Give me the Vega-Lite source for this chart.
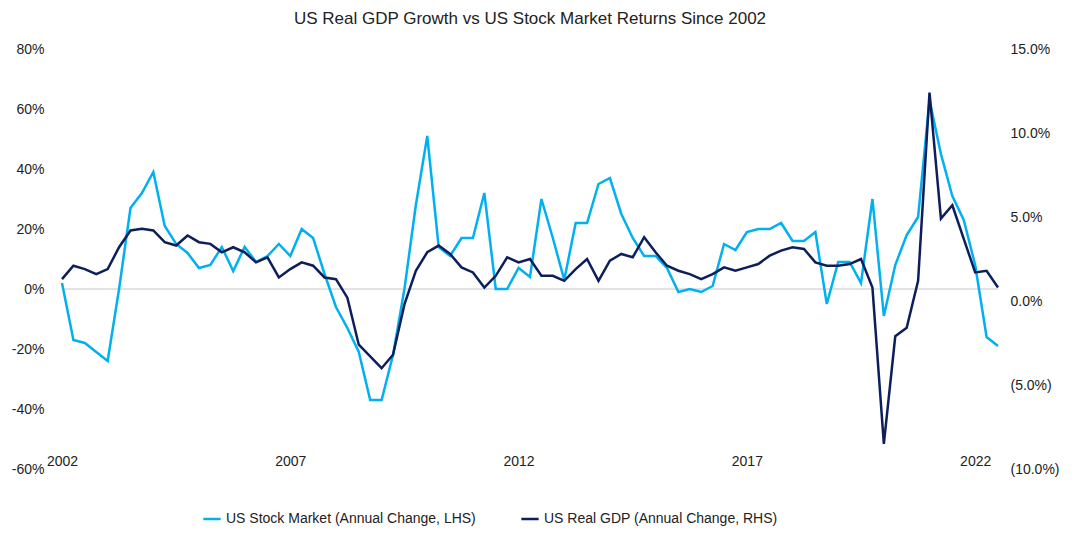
{
  "$schema": "https://vega.github.io/schema/vega-lite/v6.json",
  "autosize": "none",
  "width": 936,
  "height": 420,
  "padding": {"left": 62, "top": 49, "right": 82, "bottom": 70},
  "title": {"text": "US Real GDP Growth vs US Stock Market Returns Since 2002", "fontSize": 17, "fontWeight": "normal", "color": "#222", "offset": 14},
  "data": {"values": [
    {"q": 0, "stock": 2, "gdp": 1.3}, {"q": 1, "stock": -17, "gdp": 2.1}, {"q": 2, "stock": -18, "gdp": 1.9}, {"q": 3, "stock": -21, "gdp": 1.6},
    {"q": 4, "stock": -24, "gdp": 1.9}, {"q": 5, "stock": 0, "gdp": 3.2}, {"q": 6, "stock": 27, "gdp": 4.2}, {"q": 7, "stock": 32, "gdp": 4.3},
    {"q": 8, "stock": 39, "gdp": 4.2}, {"q": 9, "stock": 21, "gdp": 3.5}, {"q": 10, "stock": 15, "gdp": 3.3}, {"q": 11, "stock": 12, "gdp": 3.9},
    {"q": 12, "stock": 7, "gdp": 3.5}, {"q": 13, "stock": 8, "gdp": 3.4}, {"q": 14, "stock": 14, "gdp": 2.9}, {"q": 15, "stock": 6, "gdp": 3.2},
    {"q": 16, "stock": 14, "gdp": 2.9}, {"q": 17, "stock": 9, "gdp": 2.3}, {"q": 18, "stock": 11, "gdp": 2.6}, {"q": 19, "stock": 15, "gdp": 1.4},
    {"q": 20, "stock": 11, "gdp": 1.9}, {"q": 21, "stock": 20, "gdp": 2.3}, {"q": 22, "stock": 17, "gdp": 2.1}, {"q": 23, "stock": 5, "gdp": 1.4},
    {"q": 24, "stock": -6, "gdp": 1.3}, {"q": 25, "stock": -13, "gdp": 0.2}, {"q": 26, "stock": -21, "gdp": -2.6}, {"q": 27, "stock": -37, "gdp": -3.3},
    {"q": 28, "stock": -37, "gdp": -4.0}, {"q": 29, "stock": -22, "gdp": -3.2}, {"q": 30, "stock": 0, "gdp": -0.2}, {"q": 31, "stock": 28, "gdp": 1.8},
    {"q": 32, "stock": 51, "gdp": 2.9}, {"q": 33, "stock": 14, "gdp": 3.3}, {"q": 34, "stock": 11, "gdp": 2.8}, {"q": 35, "stock": 17, "gdp": 2.0},
    {"q": 36, "stock": 17, "gdp": 1.7}, {"q": 37, "stock": 32, "gdp": 0.8}, {"q": 38, "stock": 0, "gdp": 1.5}, {"q": 39, "stock": 0, "gdp": 2.6},
    {"q": 40, "stock": 7, "gdp": 2.3}, {"q": 41, "stock": 4, "gdp": 2.5}, {"q": 42, "stock": 30, "gdp": 1.5}, {"q": 43, "stock": 17, "gdp": 1.5},
    {"q": 44, "stock": 3, "gdp": 1.2}, {"q": 45, "stock": 22, "gdp": 1.9}, {"q": 46, "stock": 22, "gdp": 2.5}, {"q": 47, "stock": 35, "gdp": 1.2},
    {"q": 48, "stock": 37, "gdp": 2.4}, {"q": 49, "stock": 25, "gdp": 2.8}, {"q": 50, "stock": 17, "gdp": 2.6}, {"q": 51, "stock": 11, "gdp": 3.8},
    {"q": 52, "stock": 11, "gdp": 2.9}, {"q": 53, "stock": 7, "gdp": 2.1}, {"q": 54, "stock": -1, "gdp": 1.8}, {"q": 55, "stock": 0, "gdp": 1.6},
    {"q": 56, "stock": -1, "gdp": 1.3}, {"q": 57, "stock": 1, "gdp": 1.6}, {"q": 58, "stock": 15, "gdp": 2.0}, {"q": 59, "stock": 13, "gdp": 1.8},
    {"q": 60, "stock": 19, "gdp": 2.0}, {"q": 61, "stock": 20, "gdp": 2.2}, {"q": 62, "stock": 20, "gdp": 2.7}, {"q": 63, "stock": 22, "gdp": 3.0},
    {"q": 64, "stock": 16, "gdp": 3.2}, {"q": 65, "stock": 16, "gdp": 3.1}, {"q": 66, "stock": 19, "gdp": 2.3}, {"q": 67, "stock": -5, "gdp": 2.1},
    {"q": 68, "stock": 9, "gdp": 2.1}, {"q": 69, "stock": 9, "gdp": 2.2}, {"q": 70, "stock": 2, "gdp": 2.5}, {"q": 71, "stock": 30, "gdp": 0.8},
    {"q": 72, "stock": -9, "gdp": -8.5}, {"q": 73, "stock": 8, "gdp": -2.1}, {"q": 74, "stock": 18, "gdp": -1.6}, {"q": 75, "stock": 24, "gdp": 1.2},
    {"q": 76, "stock": 63, "gdp": 12.4}, {"q": 77, "stock": 45, "gdp": 4.9}, {"q": 78, "stock": 31, "gdp": 5.7}, {"q": 79, "stock": 23, "gdp": 3.7},
    {"q": 80, "stock": 8, "gdp": 1.7}, {"q": 81, "stock": -16, "gdp": 1.8}, {"q": 82, "stock": -19, "gdp": 0.8}
  ]},
  "transform": [{"calculate": "2002 + datum.q / 4", "as": "t"}],
  "encoding": {
    "x": {"field": "t", "type": "quantitative", "scale": {"domain": [2002, 2022.5], "nice": false, "zero": false},
      "axis": {"title": null, "values": [2002, 2007, 2012, 2017, 2022], "format": "d", "grid": false, "domain": false, "ticks": false, "labelFlush": false, "labelFontSize": 14, "labelColor": "#222", "labelPadding": -15}}
  },
  "layer": [
    {
      "layer": [
        {"mark": {"type": "rule", "color": "#d9d9d9", "strokeWidth": 1.5}, "data": {"values": [{"z": 0}]}, "encoding": {"y": {"field": "z", "type": "quantitative"}, "x": null}},
        {"mark": {"type": "line", "strokeWidth": 2.5}, "encoding": {
          "y": {"field": "stock", "type": "quantitative", "scale": {"domain": [-60, 80], "nice": false},
            "axis": {"title": null, "values": [-60, -40, -20, 0, 20, 40, 60, 80], "labelExpr": "datum.value + '%'", "grid": false, "domain": false, "ticks": false, "labelFontSize": 14, "labelColor": "#222", "labelPadding": 18}},
          "color": {"datum": "US Stock Market (Annual Change, LHS)", "type": "nominal"}
        }}
      ]
    },
    {"mark": {"type": "line", "strokeWidth": 2.5}, "encoding": {
      "y": {"field": "gdp", "type": "quantitative", "scale": {"domain": [-10, 15], "nice": false},
        "axis": {"orient": "right", "title": null, "values": [-10, -5, 0, 5, 10, 15], "labelExpr": "datum.value < 0 ? '(' + format(-datum.value / 100, '.1%') + ')' : format(datum.value / 100, '.1%')", "grid": false, "domain": false, "ticks": false, "labelFontSize": 14, "labelColor": "#222", "labelPadding": 12}},
      "color": {"datum": "US Real GDP (Annual Change, RHS)", "type": "nominal"}
    }}
  ],
  "resolve": {"scale": {"y": "independent"}},
  "config": {
    "font": "Liberation Sans",
    "view": {"stroke": null},
    "range": {"category": ["#00b0f0", "#0c1f5c"]},
    "legend": {"orient": "none", "legendX": 140, "legendY": 460, "title": null, "labelFontSize": 14, "labelColor": "#222", "symbolType": "stroke", "symbolStrokeWidth": 2.5, "symbolSize": 300, "direction": "horizontal", "columnPadding": 40, "labelLimit": 400}
  }
}
